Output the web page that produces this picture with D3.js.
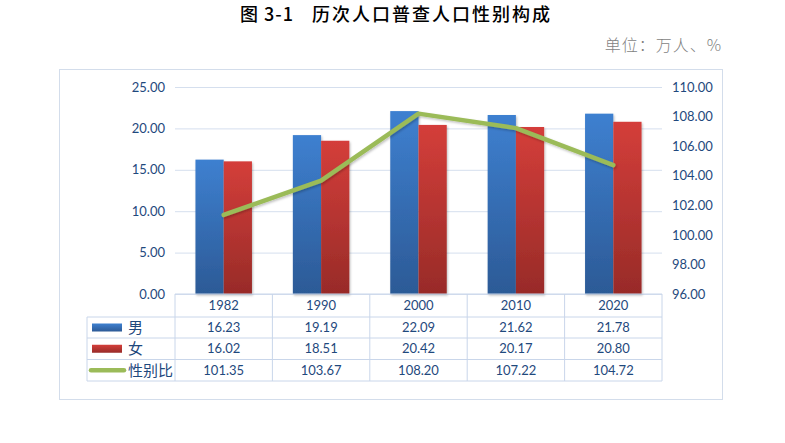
<!DOCTYPE html>
<html>
<head>
<meta charset="utf-8">
<title>历次人口普查人口性别构成</title>
<style>
	body { margin: 0; background: #fff; }
	svg { display: block; }
</style>
</head>
<body>
<div id="chart"></div>
<script src="https://cdn.jsdelivr.net/npm/d3@7"></script>
<script>
// data
var years = ["1982", "1990", "2000", "2010", "2020"];
var male = [16.23, 19.19, 22.09, 21.62, 21.78];
var female = [16.02, 18.51, 20.42, 20.17, 20.80];
var sexRatio = [101.35, 103.67, 108.20, 107.22, 104.72];
var leftTicks = [0, 5, 10, 15, 20, 25];
var rightTicks = [96, 98, 100, 102, 104, 106, 108, 110];
var seriesNames = ["男", "女", "性别比"];

var width = 785, height = 443;
var plotTop = 87, plotBottom = 294, plotLeft = 175, plotRight = 662;
var rowLines = [294, 317, 338, 359.5, 381];
var legendLeft = 87;
var textBlue = "#1f497d";
var gridColor = "#d5dfee";
var numFont = "Lato, 'Open Sans', sans-serif";
var cjkFont = "'Noto Sans CJK SC', sans-serif";

var svg = d3.select("#chart").append("svg")
	.attr("width", width)
	.attr("height", height);

var defs = svg.append("defs");
function addGradient(id, top, bottom) {
	var g = defs.append("linearGradient").attr("id", id)
		.attr("x1", 0).attr("y1", 0).attr("x2", 0).attr("y2", 1);
	g.append("stop").attr("offset", "0%").attr("stop-color", top);
	g.append("stop").attr("offset", "100%").attr("stop-color", bottom);
}
addGradient("gradMale", "#3e80d0", "#2c5a96");
addGradient("gradFemale", "#d43e3a", "#982b28");

var shadow = defs.append("filter").attr("id", "shadow")
	.attr("x", "-20%").attr("y", "-20%").attr("width", "140%").attr("height", "140%");
shadow.append("feDropShadow").attr("dx", 1).attr("dy", 1.5)
	.attr("stdDeviation", 1.2).attr("flood-color", "#000").attr("flood-opacity", 0.25);

// title and unit
var title = svg.append("text")
	.attr("y", 21)
	.attr("font-family", cjkFont).attr("font-weight", 500)
	.attr("font-size", 18).attr("fill", "#000");
title.append("tspan").attr("x", 240).attr("letter-spacing", 1).text("图 3-1");
title.append("tspan").attr("x", 312).attr("letter-spacing", 2).text("历次人口普查人口性别构成");

svg.append("text")
	.attr("x", 722).attr("y", 51)
	.attr("text-anchor", "end")
	.attr("font-family", cjkFont).attr("font-weight", 300)
	.attr("font-size", 16).attr("letter-spacing", 1).attr("fill", "#7f7f7f")
	.text("单位：万人、%");

// outer frame
svg.append("rect")
	.attr("x", 59.5).attr("y", 69.5)
	.attr("width", 663).attr("height", 330)
	.attr("fill", "none").attr("stroke", "#d3ddeb");

// scales
var x = d3.scaleBand().domain(years).range([plotLeft, plotRight]);
var xSub = d3.scaleBand().domain(["male", "female"])
	.range([x.bandwidth() * 0.21, x.bandwidth() * 0.79]);
var yLeft = d3.scaleLinear().domain([0, 25]).range([plotBottom, plotTop]);
var yRight = d3.scaleLinear().domain([96, 110]).range([plotBottom, plotTop]);

// gridlines + left axis
var leftAxis = svg.append("g")
	.attr("transform", "translate(" + plotLeft + ",0)")
	.call(d3.axisLeft(yLeft).tickValues(leftTicks)
		.tickSize(-(plotRight - plotLeft)).tickPadding(10)
		.tickFormat(d3.format(".2f")));
leftAxis.select(".domain").remove();
leftAxis.selectAll(".tick line").attr("stroke", gridColor);
leftAxis.selectAll(".tick text")
	.attr("font-family", numFont).attr("font-size", 13).attr("fill", textBlue);

var rightAxis = svg.append("g")
	.attr("transform", "translate(" + plotRight + ",0)")
	.call(d3.axisRight(yRight).tickValues(rightTicks)
		.tickSize(0).tickPadding(10)
		.tickFormat(d3.format(".2f")));
rightAxis.select(".domain").remove();
rightAxis.selectAll(".tick text")
	.attr("font-family", numFont).attr("font-size", 13).attr("fill", textBlue);

// bars
var barData = years.map(function(y, i) {
	return [{ key: "male", year: y, v: male[i] }, { key: "female", year: y, v: female[i] }];
});
svg.append("g").selectAll("g").data(barData).join("g")
	.attr("transform", function(d) { return "translate(" + x(d[0].year) + ",0)"; })
	.selectAll("rect").data(function(d) { return d; }).join("rect")
	.attr("x", function(d) { return xSub(d.key); })
	.attr("width", xSub.bandwidth())
	.attr("y", function(d) { return yLeft(d.v); })
	.attr("height", function(d) { return plotBottom - yLeft(d.v); })
	.attr("fill", function(d) { return d.key === "male" ? "url(#gradMale)" : "url(#gradFemale)"; })
	.attr("filter", "url(#shadow)");

// sex ratio line
var line = d3.line()
	.x(function(d, i) { return x(years[i]) + x.bandwidth() / 2; })
	.y(function(d) { return yRight(d); });
svg.append("path")
	.datum(sexRatio)
	.attr("d", line)
	.attr("fill", "none")
	.attr("stroke", "#9bbb59")
	.attr("stroke-width", 4.5)
	.attr("stroke-linejoin", "round")
	.attr("stroke-linecap", "round")
	.attr("filter", "url(#shadow)");

// data table
var table = svg.append("g");
var tableColor = "#c9d6ea";
// horizontal lines
rowLines.forEach(function(yy, i) {
	table.append("line")
		.attr("x1", i === 0 ? plotLeft : legendLeft).attr("x2", plotRight)
		.attr("y1", yy).attr("y2", yy)
		.attr("stroke", tableColor);
});
// vertical lines
var colEdges = years.map(function(y) { return x(y); }).concat([plotRight]);
colEdges.forEach(function(xx) {
	table.append("line")
		.attr("x1", xx).attr("x2", xx)
		.attr("y1", rowLines[0]).attr("y2", rowLines[4])
		.attr("stroke", tableColor);
});
table.append("line")
	.attr("x1", legendLeft).attr("x2", legendLeft)
	.attr("y1", rowLines[1]).attr("y2", rowLines[4])
	.attr("stroke", tableColor);

// header row
table.selectAll("text.year").data(years).join("text")
	.attr("class", "year")
	.attr("x", function(d) { return x(d) + x.bandwidth() / 2; })
	.attr("y", (rowLines[0] + rowLines[1]) / 2 + 4.5)
	.attr("text-anchor", "middle")
	.attr("font-family", numFont).attr("font-size", 13).attr("fill", textBlue)
	.text(function(d) { return d; });

var rows = [male, female, sexRatio];
rows.forEach(function(vals, r) {
	var cy = (rowLines[r + 1] + rowLines[r + 2]) / 2;
	table.selectAll("text.r" + r).data(vals).join("text")
		.attr("class", "r" + r)
		.attr("x", function(d, i) { return x(years[i]) + x.bandwidth() / 2; })
		.attr("y", cy + 4.5)
		.attr("text-anchor", "middle")
		.attr("font-family", numFont).attr("font-size", 13).attr("fill", textBlue)
		.text(function(d) { return d3.format(".2f")(d); });

	table.append("text")
		.attr("x", 128).attr("y", cy + 5.5)
		.attr("font-family", cjkFont).attr("font-size", 15).attr("fill", textBlue)
		.text(seriesNames[r]);
});

// legend keys
var key1 = (rowLines[1] + rowLines[2]) / 2;
var key2 = (rowLines[2] + rowLines[3]) / 2;
var key3 = (rowLines[3] + rowLines[4]) / 2;
table.append("rect").attr("x", 92).attr("y", key1 - 4).attr("width", 30).attr("height", 8)
	.attr("fill", "url(#gradMale)");
table.append("rect").attr("x", 92).attr("y", key2 - 4).attr("width", 30).attr("height", 8)
	.attr("fill", "url(#gradFemale)");
table.append("line").attr("x1", 91).attr("x2", 124).attr("y1", key3).attr("y2", key3)
	.attr("stroke", "#9bbb59").attr("stroke-width", 4.5).attr("stroke-linecap", "round");
</script>
</body>
</html>
